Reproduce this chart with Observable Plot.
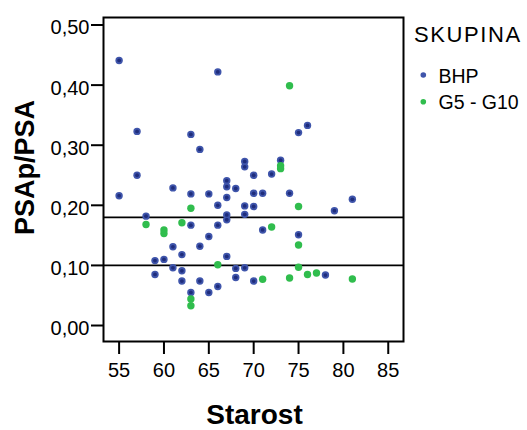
<!DOCTYPE html>
<html>
<head>
<meta charset="utf-8">
<script src="https://cdn.jsdelivr.net/npm/d3@7"></script>
<script src="https://cdn.jsdelivr.net/npm/@observablehq/plot@0.6"></script>
<style>
  html, body { margin: 0; padding: 0; background: #fff; }
  #chart { position: relative; width: 527px; height: 430px; font-family: "Liberation Sans", Arial, sans-serif; }
  #chart svg { position: absolute; left: 0; top: 0; }
</style>
</head>
<body>
<div id="chart"></div>
<script>
// Group names and colours
const groups = ["BHP", "G5 - G10"];
const groupColors = ["#3f55ab", "#30bd4d"];
const legendTitle = "SKUPINA";

// BHP: age (Starost) and PSAp/PSA ratio
const bhpAge = [55, 66, 57, 63, 64, 69, 69, 70, 57, 67, 76, 75, 73, 72, 55, 61, 63, 65, 67, 68,
                67, 66, 69, 70, 70, 58, 67, 69, 67, 63, 66, 65, 61, 64, 62, 59, 60, 67, 61, 62,
                68, 69, 59, 68, 62, 64, 70, 66, 65, 63, 71, 71, 74, 81, 79, 75, 78];
const bhpRatio = [0.441, 0.422, 0.323, 0.318, 0.293, 0.273, 0.264, 0.250, 0.250, 0.241, 0.333, 0.321, 0.275, 0.252, 0.216, 0.229, 0.219, 0.219, 0.231, 0.228,
                  0.213, 0.200, 0.199, 0.220, 0.198, 0.182, 0.184, 0.185, 0.176, 0.167, 0.167, 0.148, 0.131, 0.132, 0.118, 0.108, 0.110, 0.115, 0.096, 0.091,
                  0.095, 0.096, 0.085, 0.080, 0.074, 0.074, 0.074, 0.065, 0.055, 0.055, 0.159, 0.220, 0.220, 0.210, 0.191, 0.151, 0.084];

// G5 - G10: age and PSAp/PSA ratio
const gAge = [74, 73, 73, 63, 58, 60, 60, 62, 66, 63, 63, 71, 75, 72, 75, 75, 76, 77, 74, 81];
const gRatio = [0.399, 0.266, 0.261, 0.195, 0.168, 0.159, 0.153, 0.171, 0.101, 0.044, 0.033, 0.077, 0.198, 0.164, 0.134, 0.097, 0.085, 0.0875, 0.079, 0.0775];

// Reference lines and axis ticks
const cutoffs = [0.18, 0.10];
const xTicks = [55, 60, 65, 70, 75, 80, 85];
const yTicks = [0, 0.1, 0.2, 0.3, 0.4, 0.5];
const xLabel = "Starost";
const yLabel = "PSAp/PSA";

const bhp = bhpAge.map((a, i) => ({age: a, ratio: bhpRatio[i], group: groups[0]}));
const g510 = gAge.map((a, i) => ({age: a, ratio: gRatio[i], group: groups[1]}));

const fmt = d => d.toFixed(2).replace(".", ",");

const plot = Plot.plot({
  width: 527,
  height: 430,
  marginLeft: 103,
  marginRight: 124,
  marginTop: 17,
  marginBottom: 89,
  style: {fontFamily: "'Liberation Sans', Arial, sans-serif", color: "#000", background: "transparent", overflow: "visible"},
  x: {domain: [53.26, 86.70]},
  y: {domain: [-0.0266, 0.5125]},
  marks: [
    Plot.ruleY(cutoffs, {stroke: "#000", strokeWidth: 1.6}),
    // y ticks
    Plot.axisY(yTicks, {tickSize: 12, strokeWidth: 2, fill: null, label: null}),
    // y tick labels
    Plot.axisY(yTicks, {tickSize: 0, tickPadding: 14, fontSize: 20, dy: 3, tickFormat: fmt, label: null}),
    // x axis
    Plot.axisX(xTicks, {tickSize: 13, strokeWidth: 2, tickPadding: 8, fontSize: 20, label: null}),
    Plot.frame({stroke: "#000", strokeWidth: 2}),
    // BHP points: lighter rim with a dark core
    Plot.dot(bhp, {x: "age", y: "ratio", r: 3.7, fill: groupColors[0], stroke: null}),
    Plot.dot(bhp, {x: "age", y: "ratio", r: 1.9, fill: "#1f2d7c", stroke: null}),
    // G5 - G10 points
    Plot.dot(g510, {x: "age", y: "ratio", r: 3.7, fill: groupColors[1], stroke: null}),
    // axis titles
    Plot.text([yLabel], {frameAnchor: "left", textAnchor: "middle", rotate: -90, fontSize: 27, fontWeight: "bold", lineAnchor: "middle", dx: -78.6, dy: -12}),
    Plot.text([xLabel], {frameAnchor: "bottom", textAnchor: "middle", fontSize: 28, fontWeight: "bold", lineAnchor: "middle", dx: 1, dy: 73.3})
  ]
});

const chart = document.getElementById("chart");
chart.appendChild(plot);

// Legend
const legend = d3.select(chart).append("svg")
  .attr("width", 527).attr("height", 430)
  .style("pointer-events", "none")
  .attr("font-family", "'Liberation Sans', Arial, sans-serif");

legend.append("text")
  .attr("x", 414).attr("y", 42.3)
  .attr("font-size", 22)
  .attr("letter-spacing", 1.6)
  .attr("fill", "#000")
  .text(legendTitle);

const rows = legend.selectAll("g.row").data(groups).join("g")
  .attr("class", "row")
  .attr("transform", (d, i) => `translate(0, ${75 + i * 26.7})`);
rows.append("circle").attr("cx", 423.3).attr("cy", 0).attr("r", 2.8)
  .attr("fill", (d, i) => groupColors[i]);
rows.append("text").attr("x", 438.5).attr("y", 7.7)
  .attr("font-size", 19.5).attr("fill", "#000")
  .text(d => d);
</script>
</body>
</html>
